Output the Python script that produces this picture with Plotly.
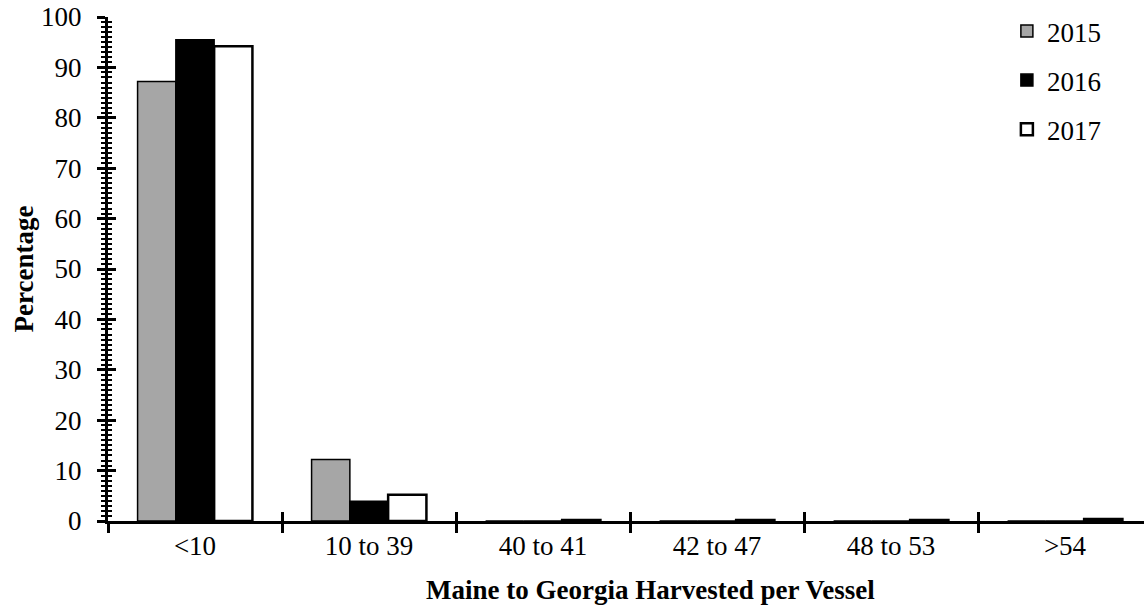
import plotly.graph_objects as go

categories = ["<10", "10 to 39", "40 to 41", "42 to 47", "48 to 53", ">54"]
pct_2015 = [87.2, 12.2, 0.0, 0.0, 0.0, 0.0]
pct_2016 = [95.5, 3.9, 0.0, 0.0, 0.0, 0.0]
pct_2017 = [94.2, 5.2, 0.2, 0.2, 0.2, 0.4]

FONT = "Liberation Serif"
FS = 27

fig = go.Figure()

# the three years
fig.add_trace(go.Bar(x=categories, y=pct_2015, name="2015", legendgroup="a",
                     marker=dict(color="#a6a6a6", line=dict(color="black", width=1.5))))
fig.add_trace(go.Bar(x=categories, y=pct_2016, name="2016", legendgroup="b",
                     marker=dict(color="black", line=dict(color="black", width=1.5))))
fig.add_trace(go.Bar(x=categories, y=pct_2017, name="2017", legendgroup="c",
                     marker=dict(color="white", line=dict(color="black", width=2.5))))

# invisible trace so the overlay axes (inner half of the crossing ticks) get drawn
fig.add_trace(go.Scatter(x=categories, y=pct_2015, xaxis="x2", yaxis="y2",
                         mode="markers", marker=dict(opacity=0), showlegend=False,
                         hoverinfo="skip"))

xrange = [-0.5, 5.5]

# figure is a bit wider than the window: the last group runs past the right edge like the original
fig.update_layout(
    width=1152, height=611,
    barmode="group",
    bargap=0.34,
    bargroupgap=0,
    plot_bgcolor="white",
    paper_bgcolor="white",
    margin=dict(l=108, r=0, t=17, b=90),
    font=dict(family=FONT, size=FS, color="black"),
    xaxis=dict(
        type="category", range=xrange, tickson="boundaries",
        ticks="outside", ticklen=9, tickwidth=3, tickcolor="black",
        showline=True, linewidth=3, linecolor="black",
        showgrid=False, zeroline=False, automargin=False,
        tickfont=dict(size=FS), ticklabelstandoff=-1,
    ),
    xaxis2=dict(
        type="category", range=xrange, tickson="boundaries", overlaying="x",
        ticks="inside", ticklen=9, tickwidth=3, tickcolor="black",
        showticklabels=False, showline=False, showgrid=False, zeroline=False,
        automargin=False,
    ),
    yaxis=dict(
        range=[0, 100], dtick=10,
        ticks="outside", ticklen=8, tickwidth=3, tickcolor="black",
        minor=dict(ticks="outside", dtick=1, ticklen=4, tickwidth=2, tickcolor="black"),
        showline=True, linewidth=3, linecolor="black",
        showgrid=False, zeroline=False, automargin=False,
        title=dict(text="<b>Percentage</b>", font=dict(size=FS), standoff=0),
        tickfont=dict(size=FS), ticklabelstandoff=10,
        ticklabeloverflow="allow",
    ),
    yaxis2=dict(
        range=[0, 100], dtick=10, overlaying="y",
        ticks="inside", ticklen=8, tickwidth=3, tickcolor="black",
        minor=dict(ticks="inside", dtick=1, ticklen=4, tickwidth=2, tickcolor="black"),
        showticklabels=False, showline=False, showgrid=False, zeroline=False,
        automargin=False,
    ),
    legend=dict(
        x=0.861, y=1.02, xanchor="left", yanchor="top",
        font=dict(size=FS), tracegroupgap=11, itemwidth=30,
        bgcolor="rgba(0,0,0,0)",
    ),
    showlegend=True,
)

# x title sits a little right of the plot centre in the reference
fig.add_annotation(
    text="<b>Maine to Georgia Harvested per Vessel</b>",
    xref="paper", yref="paper", x=0.52, y=0, yshift=-69,
    xanchor="center", yanchor="middle", showarrow=False,
    font=dict(size=FS),
)

fig.write_html("out.html", config={"displayModeBar": False},
               post_script="document.body.style.margin='0';document.body.style.overflow='hidden';")
